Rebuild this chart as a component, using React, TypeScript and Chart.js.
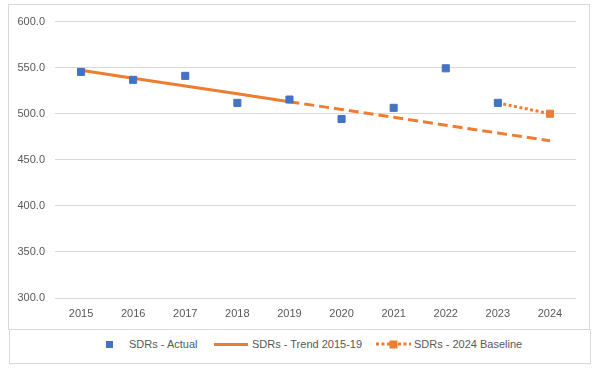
import React, { useEffect, useRef } from "react";
import { Chart, registerables } from "chart.js";

Chart.register(...registerables);

const years = ["2015", "2016", "2017", "2018", "2019", "2020", "2021", "2022", "2023", "2024"];
const actual = [545.4, 536.8, 541.1, 511.8, 515.4, 494.3, 506.4, 549.3, 511.8, null];
const trend = [547.1, 538.6, 530.1, 521.6, 513.1, 504.6, 496.1, 487.6, 479.1, 470.6];
const baseline = [null, null, null, null, null, null, null, null, 511.8, 500.0];
const yMin = 300;
const yMax = 600;
const yStep = 50;

const BLUE = "#4472C4";
const ORANGE = "#ED7D31";
const TEXT = "#595959";
const GRID = "#D9D9D9";
const FONT = "'Liberation Sans', Arial, sans-serif";

export default function App() {
  const ref = useRef<HTMLCanvasElement | null>(null);

  useEffect(() => {
    if (!ref.current) return;
    const chart = new Chart(ref.current, {
      type: "line",
      data: {
        labels: years,
        datasets: [
          {
            label: "SDRs - Actual",
            data: actual,
            showLine: false,
            pointStyle: "rect",
            pointRadius: 5,
            pointBorderWidth: 1,
            pointBackgroundColor: BLUE,
            pointBorderColor: BLUE,
            borderColor: BLUE,
            backgroundColor: BLUE,
          },
          {
            label: "SDRs - Trend 2015-19",
            data: trend,
            borderColor: ORANGE,
            borderWidth: 3,
            pointRadius: 0,
            tension: 0,
            segment: {
              borderDash: (ctx: any) => (ctx.p0DataIndex >= 4 ? [10, 5] : undefined),
            },
          },
          {
            label: "SDRs - 2024 Baseline",
            data: baseline,
            borderColor: ORANGE,
            backgroundColor: ORANGE,
            borderWidth: 3,
            borderDash: [3, 2.5],
            pointStyle: "rect",
            pointRadius: (ctx: any) => (ctx.dataIndex === 9 ? 5 : 0),
            pointBorderWidth: 1,
            pointBackgroundColor: ORANGE,
            pointBorderColor: ORANGE,
            spanGaps: false,
          },
        ],
      },
      options: {
        animation: false,
        responsive: false,
        maintainAspectRatio: false,
        layout: { padding: { top: 12, right: 13, left: 0, bottom: 0 } },
        plugins: { legend: { display: false }, tooltip: { enabled: false } },
        scales: {
          x: {
            type: "category",
            offset: true,
            grid: { display: false, drawTicks: false },
            border: { display: false },
            ticks: {
              color: TEXT,
              font: { family: FONT, size: 11 },
              padding: 9,
              maxRotation: 0,
              autoSkip: false,
            },
            afterFit: (s: any) => {
              s.height = 30;
            },
          },
          y: {
            min: yMin,
            max: yMax,
            ticks: {
              stepSize: yStep,
              callback: (v: any) => Number(v).toFixed(1),
              padding: 10,
              color: TEXT,
              font: { family: FONT, size: 11 },
            },
            grid: { color: GRID, drawTicks: false, lineWidth: 1 },
            border: { display: false },
            afterFit: (s: any) => {
              s.width = 46;
            },
          },
        },
      },
    } as any);
    return () => chart.destroy();
  }, []);

  const textStyle: React.CSSProperties = {
    position: "absolute",
    top: 337,
    height: 14,
    lineHeight: "14px",
    fontSize: 11,
    fontFamily: FONT,
    color: TEXT,
    whiteSpace: "nowrap",
  };

  return (
    <div>
      <div
        style={{
          position: "absolute",
          left: 8,
          top: 4,
          width: 582,
          height: 326,
          border: `1px solid ${GRID}`,
          boxSizing: "border-box",
          background: "#fff",
        }}
      >
        <canvas ref={ref} width={580} height={323} style={{ display: "block", width: 580, height: 323 }} />
      </div>
      <div
        style={{
          position: "absolute",
          left: 9,
          top: 329,
          width: 582,
          height: 35,
          border: `1px solid ${GRID}`,
          boxSizing: "border-box",
          background: "#fff",
        }}
      />
      <div style={{ position: "absolute", left: 106, top: 341, width: 7, height: 7, background: BLUE }} />
      <span style={{ ...textStyle, left: 129 }}>SDRs - Actual</span>
      <div style={{ position: "absolute", left: 214, top: 343, width: 34, height: 3, background: ORANGE }} />
      <span style={{ ...textStyle, left: 252 }}>SDRs - Trend 2015-19</span>
      <svg style={{ position: "absolute", left: 376, top: 338 }} width={35} height={12}>
        <line x1={0} y1={6} x2={35} y2={6} stroke={ORANGE} strokeWidth={3} strokeDasharray="3 2.5" />
        <rect x={13.5} y={2.5} width={8} height={8} fill={ORANGE} />
      </svg>
      <span style={{ ...textStyle, left: 414 }}>SDRs - 2024 Baseline</span>
    </div>
  );
}
